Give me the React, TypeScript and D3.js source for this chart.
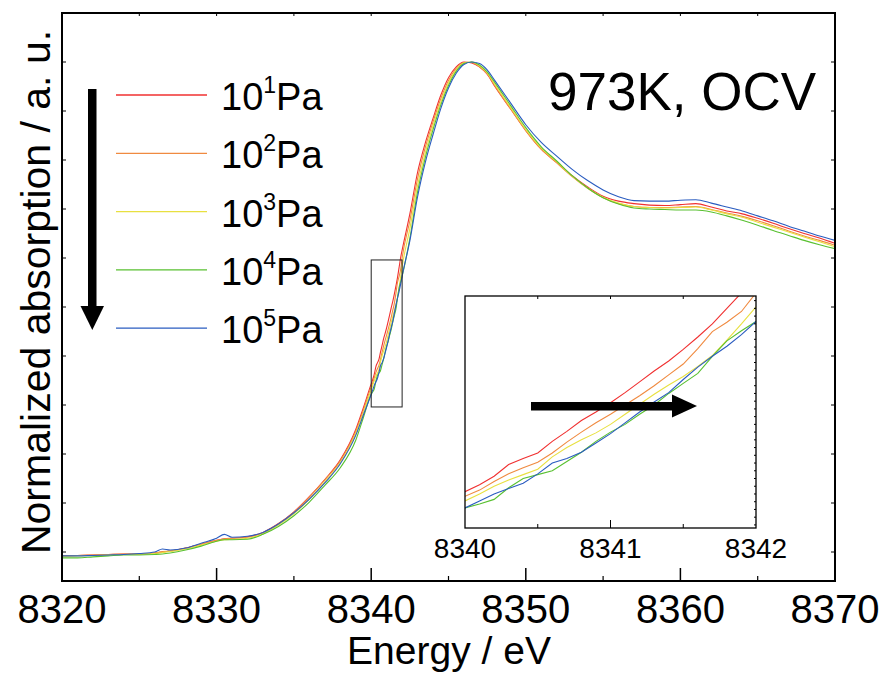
import React from "react";
import * as d3 from "d3";

const energy = [
  8320, 8321, 8322, 8323, 8324, 8325, 8326, 8326.5, 8327, 8328, 8329, 8330, 8330.5, 8331, 8332, 8333, 8334, 8335, 8336, 8337, 8338, 8339, 8339.5,
  8340, 8340.1, 8340.2, 8340.3, 8340.4, 8340.5, 8340.6, 8340.7, 8340.8, 8340.9, 8341, 8341.1, 8341.2, 8341.3, 8341.4, 8341.5, 8341.6, 8341.7, 8341.8, 8341.9, 8342,
  8342.5, 8343, 8343.5, 8344, 8344.5, 8345, 8345.5, 8346, 8346.5, 8347, 8347.5, 8348,
  8349, 8350, 8351, 8352, 8353, 8354, 8355, 8356, 8357, 8358, 8359, 8360, 8361, 8362, 8363, 8364, 8365, 8366, 8367, 8368, 8369, 8370,
];

const p1e1 = [
  -0.008, -0.007, -0.006, -0.005, -0.004, -0.004, -0.002, 0.0, 0.002, 0.008, 0.016, 0.024, 0.027, 0.028, 0.031, 0.04, 0.058, 0.082, 0.113, 0.148, 0.188, 0.25, 0.295,
  0.343, 0.352, 0.363, 0.378, 0.386, 0.393, 0.408, 0.421, 0.435, 0.446, 0.458, 0.471, 0.485, 0.499, 0.512, 0.527, 0.543, 0.56, 0.58, 0.6, 0.616,
  0.69, 0.775, 0.835, 0.885, 0.932, 0.968, 0.99, 1.0, 0.998, 0.99, 0.975, 0.95,
  0.905, 0.86, 0.822, 0.795, 0.768, 0.745, 0.726, 0.716, 0.711, 0.708, 0.707, 0.709, 0.711, 0.704, 0.696, 0.69, 0.681, 0.671, 0.66, 0.65, 0.641, 0.63,
];
const p1e2 = [
  -0.007, -0.007, -0.006, -0.005, -0.004, -0.004, -0.002, 0.001, 0.002, 0.008, 0.016, 0.024, 0.027, 0.028, 0.03, 0.039, 0.057, 0.081, 0.112, 0.147, 0.186, 0.246, 0.29,
  0.337, 0.345, 0.356, 0.366, 0.374, 0.381, 0.393, 0.407, 0.42, 0.432, 0.443, 0.455, 0.467, 0.48, 0.494, 0.508, 0.528, 0.55, 0.562, 0.576, 0.6,
  0.676, 0.762, 0.826, 0.878, 0.925, 0.962, 0.987, 0.999, 0.999, 0.99, 0.976, 0.951,
  0.905, 0.86, 0.822, 0.794, 0.766, 0.742, 0.723, 0.711, 0.705, 0.703, 0.703, 0.704, 0.705, 0.699, 0.692, 0.685, 0.676, 0.666, 0.655, 0.645, 0.636, 0.626,
];
const p1e3 = [
  -0.009, -0.008, -0.007, -0.006, -0.005, -0.004, -0.003, -0.001, 0.001, 0.006, 0.014, 0.022, 0.025, 0.026, 0.028, 0.037, 0.055, 0.078, 0.108, 0.143, 0.182, 0.242, 0.285,
  0.331, 0.34, 0.35, 0.358, 0.365, 0.372, 0.388, 0.4, 0.41, 0.419, 0.43, 0.443, 0.456, 0.469, 0.481, 0.492, 0.505, 0.519, 0.539, 0.56, 0.582,
  0.66, 0.748, 0.815, 0.87, 0.918, 0.957, 0.984, 0.998, 1.0, 0.992, 0.978, 0.954,
  0.908, 0.862, 0.824, 0.796, 0.767, 0.743, 0.724, 0.712, 0.705, 0.703, 0.702, 0.703, 0.704, 0.698, 0.69, 0.683, 0.673, 0.663, 0.653, 0.643, 0.633, 0.623,
];
const p1e4 = [
  -0.012, -0.012, -0.01, -0.008, -0.006, -0.006, -0.005, -0.004, -0.002, 0.004, 0.012, 0.022, 0.025, 0.025, 0.026, 0.036, 0.052, 0.074, 0.102, 0.136, 0.172, 0.228, 0.275,
  0.322, 0.327, 0.333, 0.348, 0.36, 0.365, 0.37, 0.382, 0.394, 0.408, 0.42, 0.43, 0.443, 0.455, 0.47, 0.483, 0.496, 0.518, 0.538, 0.551, 0.563,
  0.64, 0.735, 0.805, 0.862, 0.912, 0.952, 0.981, 0.997, 1.0, 0.994, 0.98, 0.958,
  0.912, 0.866, 0.827, 0.798, 0.768, 0.743, 0.723, 0.71, 0.702, 0.7, 0.699, 0.698, 0.698, 0.694, 0.686, 0.677, 0.667, 0.656, 0.646, 0.636, 0.627, 0.619,
];
const p1e5 = [
  -0.008, -0.008, -0.007, -0.006, -0.005, -0.003, 0.0, 0.006, 0.004, 0.008, 0.018, 0.028, 0.036, 0.03, 0.032, 0.04, 0.057, 0.08, 0.108, 0.141, 0.18, 0.238, 0.28,
  0.322, 0.331, 0.34, 0.347, 0.354, 0.366, 0.38, 0.386, 0.394, 0.406, 0.418, 0.432, 0.446, 0.459, 0.471, 0.488, 0.504, 0.518, 0.531, 0.546, 0.563,
  0.635, 0.725, 0.795, 0.852, 0.905, 0.947, 0.977, 0.995, 1.0, 0.997, 0.984, 0.962,
  0.917, 0.872, 0.836, 0.808, 0.781, 0.758, 0.739, 0.725, 0.717, 0.716, 0.716, 0.718, 0.719, 0.712, 0.704, 0.696, 0.686, 0.676, 0.665, 0.655, 0.645, 0.636,
];

const exponents = ["1", "2", "3", "4", "5"];
const seriesValues = [p1e1, p1e2, p1e3, p1e4, p1e5];
const colors = ["#f03030", "#f08a40", "#e8e040", "#58c030", "#2a5cc0"];

const xTicks = [8320, 8330, 8340, 8350, 8360, 8370];
const insetTicks = [8340, 8341, 8342];

const FONT = "'Liberation Sans', Arial, Helvetica, sans-serif";

export default function App() {
  const W = 882, H = 674;
  const L = 62, R = 835, T = 13, B = 581;
  const x = d3.scaleLinear().domain([8320, 8370]).range([L, R]);
  const y = d3.scaleLinear().domain([0, 1]).range([552, 62]);

  const ix = d3.scaleLinear().domain([8340, 8342]).range([465, 756]);
  const iy = d3.scaleLinear().domain([0.296, 0.596]).range([528, 296]);

  const mainLine = d3.line<number>().x((_, i) => x(energy[i])).y((v) => y(v)).curve(d3.curveMonotoneX);
  const insetLine = d3.line<number>().x((_, i) => ix(energy[i])).y((v) => iy(v));

  const yTicks = d3.range(0, 11).map((k) => k / 10);
  const minorX = d3.range(8325, 8370, 10);
  const topX = d3.range(8325, 8370, 5);
  const iyTicks = d3.range(30, 61).map((k) => k / 100).filter((v) => v > 0.296 && v < 0.596);

  return (
    <svg width={W} height={H} style={{ position: "absolute", left: 0, top: 0, background: "#fff" }} fontFamily={FONT}>
      <defs>
        <clipPath id="mainClip"><rect x={L} y={T} width={R - L} height={B - T} /></clipPath>
        <clipPath id="insetClip"><rect x={465} y={296} width={291} height={232} /></clipPath>
      </defs>
      <g clipPath="url(#mainClip)">
        {seriesValues.map((vals, i) => (
          <path key={i} d={mainLine(vals) || ""} fill="none" stroke={colors[i]} strokeWidth={1.1} />
        ))}
      </g>
      <rect x={x(8340)} y={y(0.596)} width={x(8342) - x(8340)} height={y(0.296) - y(0.596)} fill="none" stroke="#222" strokeWidth={1} />
      <rect x={L} y={T} width={R - L} height={B - T} fill="none" stroke="#000" strokeWidth={2} />
      {xTicks.map((t) => (
        <line key={"bx" + t} x1={x(t)} x2={x(t)} y1={B} y2={B - 13} stroke="#000" strokeWidth={1.5} />
      ))}
      {minorX.map((t) => (
        <line key={"bm" + t} x1={x(t)} x2={x(t)} y1={B} y2={B - 5} stroke="#000" strokeWidth={1.2} />
      ))}
      {topX.map((t) => (
        <line key={"tx" + t} x1={x(t)} x2={x(t)} y1={T} y2={T + 3} stroke="#000" strokeWidth={1} />
      ))}
      {yTicks.map((t) => (
        <g key={"y" + t}>
          <line x1={L} x2={L + 4} y1={y(t)} y2={y(t)} stroke="#000" strokeWidth={1} />
          <line x1={R} x2={R - 4} y1={y(t)} y2={y(t)} stroke="#000" strokeWidth={1} />
        </g>
      ))}
      {xTicks.map((t) => (
        <text key={"xl" + t} x={x(t)} y={623} textAnchor="middle" fontSize={40} fill="#000">{t}</text>
      ))}
      <text x={449} y={664} textAnchor="middle" fontSize={39} fill="#000">Energy / eV</text>
      <text transform={`translate(50, ${(T + B) / 2 - 5}) rotate(-90)`} textAnchor="middle" fontSize={41} fill="#000">
        Normalized absorption / a. u.
      </text>
      <text x={548} y={110} fontSize={53} fill="#000">973K, OCV</text>

      {exponents.map((e, i) => {
        const ly = 95 + i * 58.3;
        return (
          <g key={"lg" + e}>
            <line x1={116} x2={207} y1={ly} y2={ly} stroke={colors[i]} strokeWidth={1.3} />
            <text x={221} y={ly + 15} fontSize={38} fill="#000">
              10<tspan fontSize={23} dy={-17}>{e}</tspan><tspan dy={17}>Pa</tspan>
            </text>
          </g>
        );
      })}
      <rect x={88} y={89} width={8.5} height={220} fill="#000" />
      <polygon points="80.5,306 104,306 92.3,330" fill="#000" />

      <rect x={465} y={296} width={291} height={232} fill="#fff" />
      <g clipPath="url(#insetClip)">
        {seriesValues.map((vals, i) => (
          <path key={"in" + i} d={insetLine(vals) || ""} fill="none" stroke={colors[i]} strokeWidth={1.1} />
        ))}
      </g>
      <rect x={465} y={296} width={291} height={232} fill="none" stroke="#000" strokeWidth={1.3} />
      {[8340.5, 8341, 8341.5].map((t) => (
        <g key={"it" + t}>
          <line x1={ix(t)} x2={ix(t)} y1={528} y2={t === 8341 ? 520 : 524} stroke="#000" strokeWidth={1} />
          <line x1={ix(t)} x2={ix(t)} y1={296} y2={299} stroke="#000" strokeWidth={1} />
        </g>
      ))}
      {iyTicks.map((t) => (
        <line key={"iy" + t} x1={756} x2={754} y1={iy(t)} y2={iy(t)} stroke="#000" strokeWidth={1} />
      ))}
      {insetTicks.map((t) => (
        <text key={"il" + t} x={ix(t)} y={558} textAnchor="middle" fontSize={28} fill="#000">{t}</text>
      ))}
      <rect x={531} y={402} width={143} height={8.5} fill="#000" />
      <polygon points="672,394.5 672,417.5 697,406" fill="#000" />
    </svg>
  );
}
